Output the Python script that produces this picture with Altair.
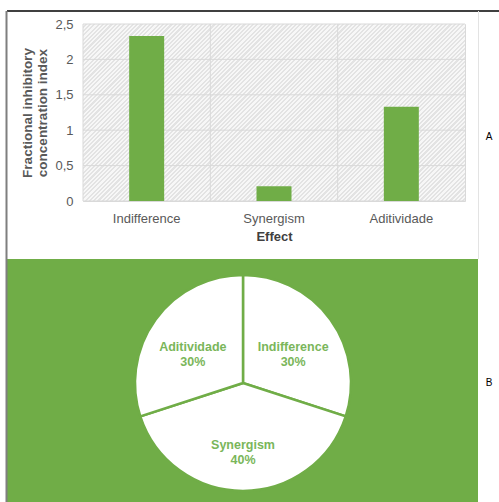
import altair as alt
import pandas as pd

# ---- data ----
categories = ["Indifference", "Synergism", "Aditividade"]
fici_values = [2.33, 0.21, 1.33]
y_tick_values = [0, 0.5, 1, 1.5, 2, 2.5]
pie_effects = ["Indifference", "Synergism", "Aditividade"]
pie_percent = [30, 40, 30]
panel_labels = ["A", "B"]

GREEN = "#70ad47"
LABEL_GREEN = "#7ab65a"
GREY_TXT = "#595959"
GRID = "#d9d9d9"
FONT = "Liberation Sans"

W, H = 382, 177          # plot area of the bar chart
PAD_L, PAD_T = 83, 24
TOTAL_W, TOTAL_H = 499, 502

bars_df = pd.DataFrame({"effect": categories, "fici": fici_values})
ticks_df = pd.DataFrame({"fici": y_tick_values})
pie_df = pd.DataFrame({"effect": pie_effects, "pct": pie_percent,
                       "order": list(range(len(pie_effects)))})
pie_df["label"] = pie_df["effect"] + "\n" + pie_df["pct"].astype(str) + "%"
one = pd.DataFrame({"k": [0]})

def px(x):
    return x - PAD_L

def py(y):
    return y - PAD_T

# fine diagonal hatch for the plot background (style only)
stops = []
period = 0.0074
n = 0
while n * period < 1.0:
    a = n * period
    stops += [alt.GradientStop(color="#f7f7f7", offset=a),
              alt.GradientStop(color="#f7f7f7", offset=a + period * 0.5),
              alt.GradientStop(color="#e3e3e3", offset=a + period * 0.5),
              alt.GradientStop(color="#e3e3e3", offset=min(a + period, 1.0))]
    n += 1
hatch_fill = alt.LinearGradient(gradient="linear", stops=stops,
                                x1=0, y1=0, x2=1.25, y2=1.25 * H / W)

y_scale = alt.Scale(domain=[0, 2.5], nice=False)
x_scale = alt.Scale(paddingInner=0, paddingOuter=0)

x_enc = alt.X(
    "effect:N", sort=categories, scale=x_scale,
    axis=alt.Axis(title="Effect", labelAngle=0, labelAlign="center", bandPosition=0.5,
                  labelColor=GREY_TXT, labelFontSize=13,
                  labelFont=FONT, labelPadding=11, ticks=False, tickSize=0, domain=False,
                  grid=False, titleFont=FONT, titleFontSize=13, titleFontWeight="bold",
                  titleColor="#404040", titlePadding=5),
)

y_enc = alt.Y("fici:Q", scale=y_scale,
              axis=alt.Axis(values=y_tick_values,
                            labelExpr="replace(toString(datum.value), '.', ',')",
                            title=["Fractional inhibitory", "concentration index"],
                            labelColor=GREY_TXT, labelFontSize=13, labelFont=FONT,
                            labelPadding=10, ticks=False, tickSize=0, domain=False,
                            grid=False,
                            titleFont=FONT, titleFontSize=13.5, titleFontWeight="bold",
                            titleColor=GREY_TXT, titlePadding=5, titleLineHeight=15))

# background decorations (table frame and green panel)
green_panel = alt.Chart(one).mark_rect(color=GREEN).encode(
    x=alt.value(px(7)), x2=alt.value(px(478)), y=alt.value(py(259)), y2=alt.value(py(502)))
top_line = alt.Chart(one).mark_rule(color="#000000", strokeWidth=1.5).encode(
    x=alt.value(px(7)), x2=alt.value(px(499)), y=alt.value(py(11)))
left_line = alt.Chart(one).mark_rule(color="#7f7f7f", strokeWidth=2).encode(
    x=alt.value(px(6.5)), y=alt.value(py(11)), y2=alt.value(py(502)))
right_line = alt.Chart(one).mark_rule(color="#e3e3e3", strokeWidth=1).encode(
    x=alt.value(px(478.5)), y=alt.value(py(11)), y2=alt.value(py(259)))

hatch = alt.Chart(one).mark_rect(fill=hatch_fill, strokeWidth=0).encode(
    x=alt.value(0), x2=alt.value(W), y=alt.value(0), y2=alt.value(H))

hgrid = alt.Chart(ticks_df).mark_rule(color=GRID, strokeWidth=1).encode(y=y_enc)

vgrid = alt.Chart(bars_df).mark_rule(color=GRID, strokeWidth=1, xOffset=-W / 6).encode(
    x=x_enc)

bars = alt.Chart(bars_df).mark_bar(color=GREEN, size=35).encode(x=x_enc, y=y_enc)

pie_base = alt.Chart(pie_df).encode(
    theta=alt.Theta("pct:Q", stack=True),
    order=alt.Order("order:Q"),
)
pie = pie_base.mark_arc(radius=108, fill="#ffffff", stroke=GREEN, strokeWidth=2.5).encode(
    x=alt.value(px(243)), y=alt.value(py(383)))
pie_text = pie_base.mark_text(radius=62, font=FONT, fontSize=12.5, fontWeight="bold",
                              color=LABEL_GREEN, lineBreak="\n", lineHeight=15,
                              align="center", baseline="middle").encode(
    x=alt.value(px(243)), y=alt.value(py(383)), text="label:N")

panel_df = pd.DataFrame({"panel": panel_labels})
label_a = alt.Chart(panel_df).transform_filter("datum.panel == 'A'").mark_text(
    font=FONT, fontSize=10, color="#000000").encode(
    x=alt.value(px(489)), y=alt.value(py(137)), text="panel:N")
label_b = alt.Chart(panel_df).transform_filter("datum.panel == 'B'").mark_text(
    font=FONT, fontSize=10, color="#000000").encode(
    x=alt.value(px(489)), y=alt.value(py(383)), text="panel:N")

chart = alt.layer(
    green_panel, top_line, left_line, right_line, hatch, hgrid, vgrid, bars,
    pie, pie_text, label_a, label_b
).properties(
    width=W, height=H,
    autosize=alt.AutoSizeParams(type="none"),
    padding={"left": PAD_L, "top": PAD_T, "right": TOTAL_W - PAD_L - W,
             "bottom": TOTAL_H - PAD_T - H},
    background="#ffffff",
).configure_view(fill="#efefef", stroke=GRID)

chart.save("out.html", embed_options={"renderer": "svg", "actions": False})
